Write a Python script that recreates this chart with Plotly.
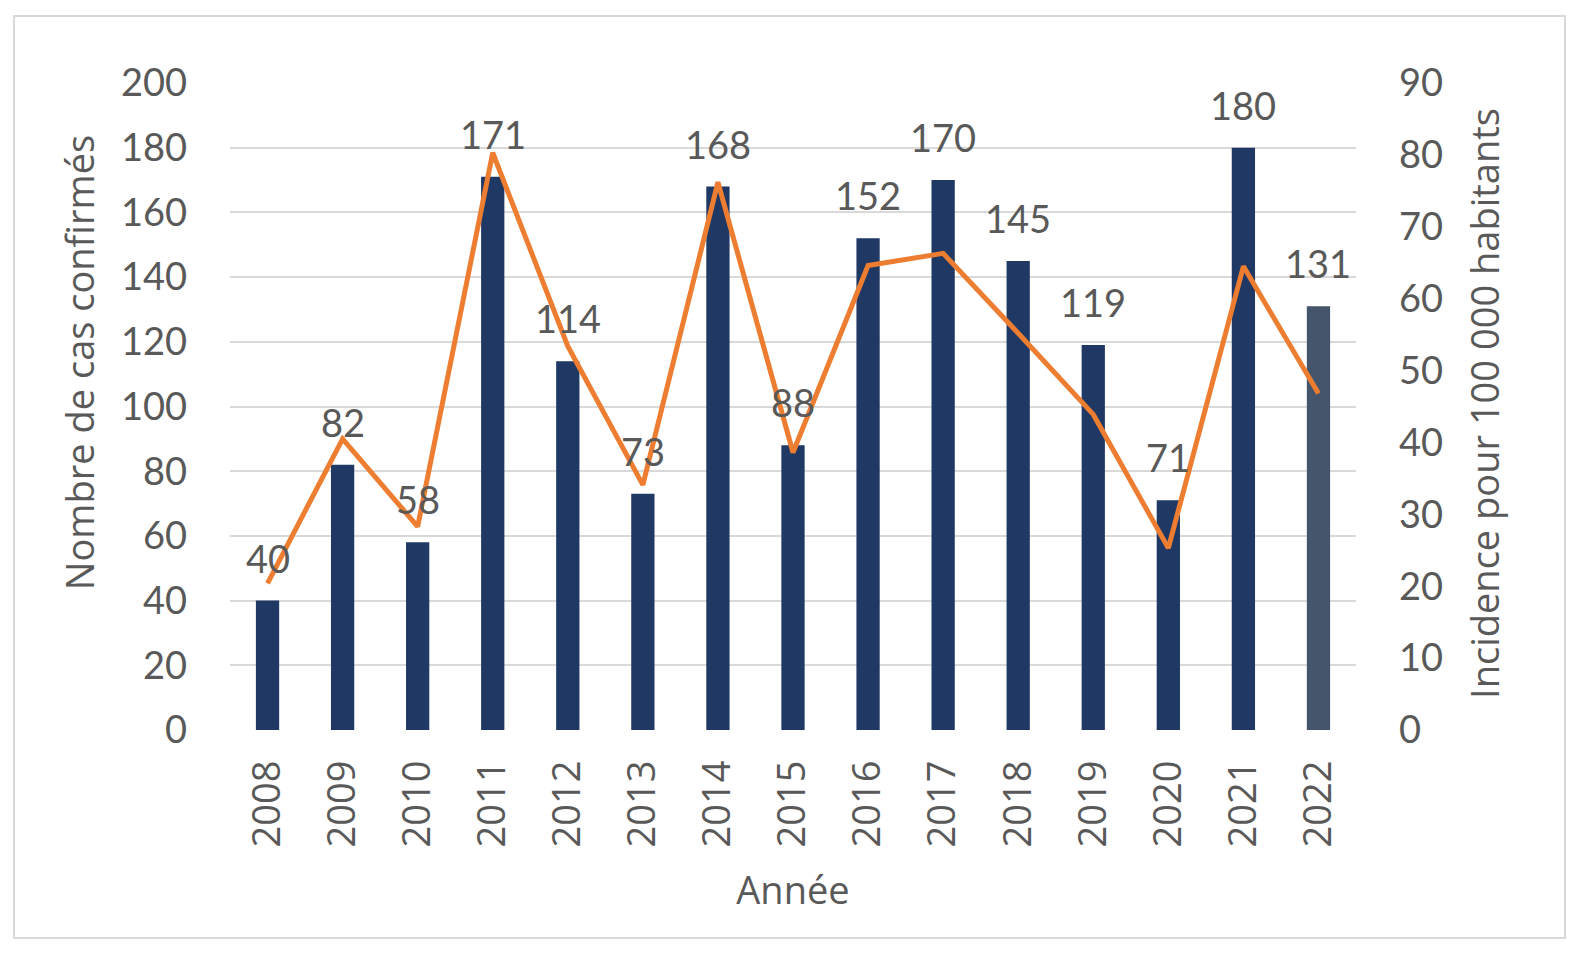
import plotly.graph_objects as go

# données
annees = ["2008", "2009", "2010", "2011", "2012", "2013", "2014", "2015",
          "2016", "2017", "2018", "2019", "2020", "2021", "2022"]
cas_confirmes = [40, 82, 58, 171, 114, 73, 168, 88, 152, 170, 145, 119, 71, 180, 131]
incidence = [20.4, 40.5, 28.3, 80.3, 53.4, 34.1, 76.2, 38.6, 64.6, 66.3, 55.2, 43.9, 25.3, 64.5, 46.8]
couleurs_barres = ["#203864"] * 14 + ["#44546a"]

gris = "#595959"
num_font = "Lato, sans-serif"
txt_font = "Open Sans, sans-serif"

fig = go.Figure()
fig.add_trace(go.Bar(x=annees, y=cas_confirmes, marker_color=couleurs_barres,
                     marker_line_width=0, yaxis="y"))
fig.add_trace(go.Scatter(x=annees, y=incidence, mode="lines", yaxis="y2",
                         line=dict(color="#ed7d31", width=5)))

# étiquettes de valeurs au-dessus des barres
# (axe catégoriel : la position d'une annotation est l'indice de la catégorie)
for i, v in enumerate(cas_confirmes):
    fig.add_annotation(x=i, y=v, xref="x", yref="y", text=str(v), showarrow=False,
                       yshift=43, font=dict(size=38, color=gris, family=num_font))

# titres des axes verticaux en annotations pour les placer comme l'original
fig.add_annotation(x=-0.1341, y=0.567, xref="paper", yref="paper", textangle=-90,
                   text="Nombre de cas confirmés", showarrow=False,
                   xanchor="center", yanchor="middle",
                   font=dict(size=38, color=gris, family=txt_font))
fig.add_annotation(x=1.1137, y=0.504, xref="paper", yref="paper", textangle=-90,
                   text="Incidence pour 100 000 habitants", showarrow=False,
                   xanchor="center", yanchor="middle",
                   font=dict(size=38, color=gris, family=txt_font))

fig.update_layout(
    width=1581, height=954,
    margin=dict(l=222, r=233, t=75, b=232),
    paper_bgcolor="white", plot_bgcolor="white",
    showlegend=False, bargap=0.69,
    xaxis=dict(type="category", range=[-0.5, len(annees) - 0.5],
               title=dict(text="Année", font=dict(size=38, color=gris, family=txt_font), standoff=30),
               tickangle=-90, tickfont=dict(size=38, color=gris, family=txt_font),
               showgrid=False, ticks="", showline=False, ticklabelstandoff=22),
    yaxis=dict(range=[0, 200], dtick=20, tickfont=dict(size=38, color=gris, family=num_font),
               gridcolor="#d9d9d9", gridwidth=2, zeroline=False, ticks="", ticklabelstandoff=42),
    yaxis2=dict(range=[0, 90], dtick=10, overlaying="y", side="right",
                tickfont=dict(size=38, color=gris, family=num_font),
                showgrid=False, zeroline=False, ticks="", ticklabelstandoff=42),
)

# cadre gris autour du graphique
fig.add_shape(type="rect", xref="paper", yref="paper",
              x0=-0.1918, x1=1.1856, y0=-0.3215, y1=1.1036,
              line=dict(color="#d9d9d9", width=2), layer="below")

fig.write_html("out.html")
